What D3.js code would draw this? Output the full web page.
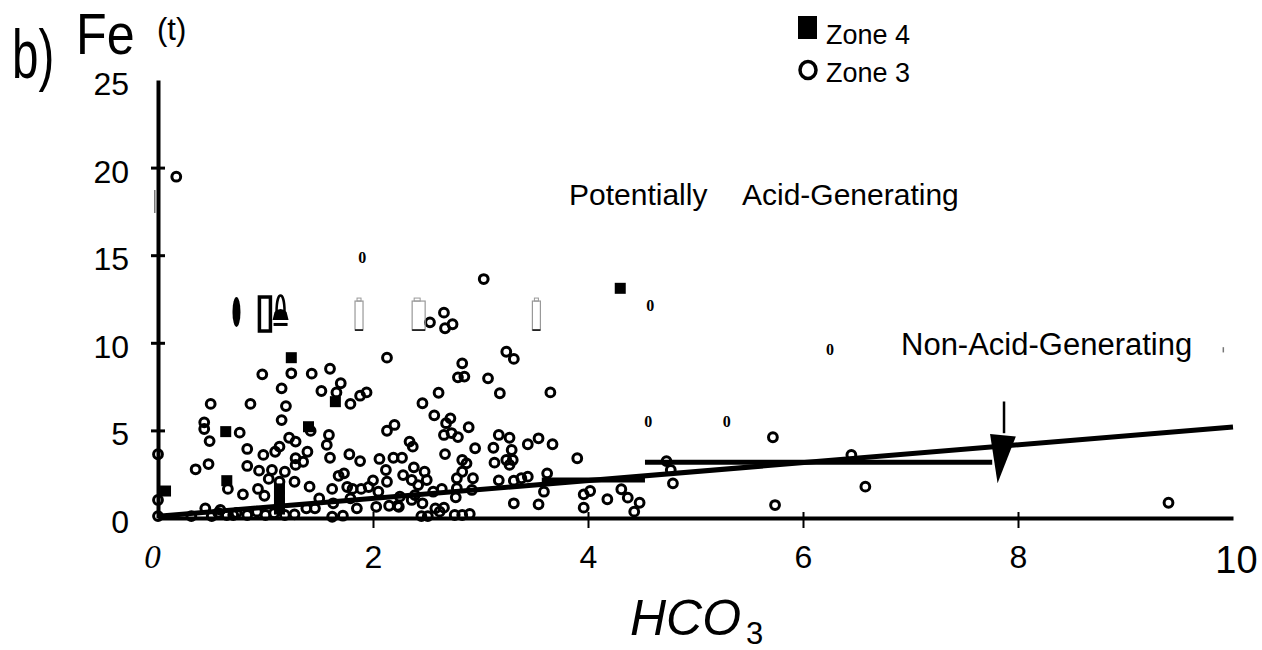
<!DOCTYPE html>
<html>
<head>
<meta charset="utf-8">
<style>
  body { margin: 0; background: #fff; }
  svg { display: block; font-family: "Liberation Sans", Arial, sans-serif; }
</style>
</head>
<body>
<div id="chart"></div>
<script src="https://cdn.jsdelivr.net/npm/d3@7"></script>
<script>
// HCO3 against total Fe
// [HCO3, Fe(t)]
const zone3 = [
  [2.13, 9.15], [0.97, 8.20], [1.24, 8.26], [1.43, 8.24], [1.60, 8.52], [1.15, 7.40],
  [1.52, 7.25], [1.70, 7.69], [1.66, 7.17], [1.88, 6.98], [1.94, 7.17], [0.49, 6.51],
  [0.86, 6.51], [1.19, 6.39], [1.79, 6.51], [1.15, 5.59], [0.43, 5.46], [0.43, 5.08],
  [0.76, 4.87], [0.48, 4.39], [1.42, 4.97], [1.59, 4.74], [1.57, 4.17], [2.13, 4.98],
  [2.20, 5.31], [1.22, 4.58], [1.28, 4.36], [0.83, 3.94], [0.98, 3.60], [1.09, 3.78],
  [1.13, 4.07], [1.39, 3.78], [1.60, 3.44], [1.28, 3.41], [1.28, 3.03], [1.35, 3.21],
  [1.78, 3.64], [1.88, 3.25], [2.06, 3.37], [2.19, 3.44], [2.12, 2.74], [0.35, 2.78],
  [0.47, 3.08], [0.83, 2.97], [0.94, 2.70], [1.06, 2.74], [1.03, 2.23], [1.18, 2.64],
  [1.27, 2.07], [1.13, 2.07], [1.68, 2.41], [1.73, 2.55], [2.00, 2.15], [2.13, 2.07],
  [0.65, 1.66], [0.79, 1.35], [0.93, 1.66], [0.99, 1.27], [1.41, 1.79], [1.62, 1.66],
  [1.76, 1.77], [1.81, 1.66], [1.89, 1.66], [1.96, 1.77], [2.05, 1.50], [0.00, 3.64],
  [0.00, 1.03], [0.00, 0.11], [0.31, 0.11], [0.44, 0.55], [0.50, 0.11], [0.58, 0.46],
  [0.70, 0.17], [0.83, 0.17], [0.92, 0.36], [1.00, 0.17], [1.08, 0.27], [1.27, 0.21],
  [1.38, 0.55], [1.50, 1.12], [1.62, 0.07], [1.72, 0.13], [1.63, 0.84], [1.85, 0.55],
  [2.03, 0.64], [2.15, 0.70], [2.23, 0.70], [1.79, 1.12], [1.46, 0.55], [0.56, 0.29],
  [0.64, 0.17], [0.73, 0.29], [1.18, 0.17],
  [3.24, 9.49], [3.31, 9.08], [2.83, 8.83], [2.79, 8.03], [2.85, 8.07], [3.07, 7.97],
  [3.18, 7.12], [3.65, 7.17], [2.61, 7.15], [2.46, 6.55], [2.57, 5.86], [2.72, 5.69],
  [2.68, 5.41], [2.89, 5.18], [2.66, 4.74], [2.73, 4.85], [2.79, 4.62], [2.34, 4.36],
  [2.37, 4.07], [2.95, 3.98], [3.17, 4.74], [3.27, 4.58], [3.12, 4.01], [3.29, 3.88],
  [3.44, 4.21], [3.54, 4.55], [3.67, 4.21], [2.67, 3.65], [2.27, 3.44], [2.83, 3.31],
  [2.87, 3.12], [3.13, 3.16], [3.24, 3.31], [3.30, 3.31], [3.27, 3.03], [3.90, 3.41],
  [2.38, 2.89], [2.28, 2.45], [2.48, 2.64], [2.50, 2.17], [2.36, 2.17], [2.42, 1.88],
  [2.83, 2.64], [2.78, 2.27], [2.93, 2.27], [3.17, 2.15], [3.31, 2.13], [3.38, 2.27],
  [3.44, 2.36], [3.62, 2.55], [2.25, 1.22], [2.39, 1.31], [2.36, 1.03], [2.46, 0.84],
  [2.56, 1.50], [2.64, 1.66], [2.78, 1.70], [2.77, 1.18], [2.92, 1.60], [3.59, 1.50],
  [3.31, 0.84], [3.54, 0.78], [2.24, 0.64], [2.58, 0.55], [2.66, 0.59], [2.62, 0.36],
  [2.45, 0.11], [2.51, 0.11], [2.76, 0.17], [2.83, 0.17], [2.90, 0.23], [3.96, 1.35],
  [4.02, 1.54], [3.96, 0.59], [4.18, 1.07], [4.31, 1.64], [4.37, 1.16], [4.48, 0.87],
  [4.43, 0.36],
  [0.17, 19.48], [3.03, 13.64], [2.53, 11.17], [2.66, 11.72], [2.67, 10.83], [2.74, 11.06],
  [4.73, 3.25], [4.77, 2.74], [4.79, 1.98], [5.72, 4.61], [5.74, 0.74], [6.45, 3.60],
  [6.58, 1.79], [9.40, 0.87]
];

const zone4 = [
  [1.24, 9.15], [1.65, 6.64], [0.63, 4.93], [1.40, 5.21], [0.64, 2.13], [0.07, 1.54],
  [4.30, 13.11], [1.13, 1.66], [1.13, 1.26], [1.13, 0.86], [1.13, 0.51]
];

// bold "0" glyphs left over in the scan
const strayZeros = [[1.90, 14.86], [4.58, 12.12], [6.25, 9.59], [4.56, 5.50], [5.29, 5.50]];

// odd scan glyphs in a row near Fe = 11.8
const scanMarks = [
  {x: 0.73, y: 11.76, kind: "oval"},
  {x: 0.99, y: 11.70, kind: "box"},
  {x: 1.14, y: 11.76, kind: "bell"},
  {x: 1.87, y: 11.64, kind: "cell"},
  {x: 2.42, y: 11.64, kind: "cellWide"},
  {x: 3.52, y: 11.64, kind: "cell"}
];

const trendLine = [[0, 0.1], [10, 5.2]];
const stepUpper = [[4.53, 3.18], [7.76, 3.18]];
const stepLower = [[3.57, 2.17], [4.53, 2.17]];
const arrowShaft = [[7.87, 6.65], [7.87, 4.84]];
const arrowHead = [[7.74, 4.80], [7.98, 4.65], [7.81, 1.98]];
const specks = [[[-0.03, 18.72], [-0.03, 17.41]], [[9.91, 9.75], [9.91, 9.45]]];

const xTicks = [0, 2, 4, 6, 8, 10];
const yTicks = [0, 5, 10, 15, 20, 25];

const width = 1262;
const height = 650;
const margin = ({top: 80, right: 29, bottom: 132, left: 158});

const svg = d3.select("#chart").append("svg").attr("width", width).attr("height", height);

const x = d3.scaleLinear()
  .domain([0, 10])
  .range([margin.left, width - margin.right]);

const y = d3.scaleLinear()
  .domain([0, 25])
  .range([height - margin.bottom, margin.top]);

const line = d3.line().x(d => x(d[0])).y(d => y(d[1]));

// ============================
// Axes
// ============================

const xAxis = g => g
  .attr("transform", `translate(0,${height - margin.bottom})`)
  .call(d3.axisBottom(x).tickValues(xTicks).tickSize(10).tickSizeOuter(0))
  .call(g => g.attr("font-family", null))
  .call(g => g.select(".domain").attr("stroke-width", 4))
  .call(g => g.selectAll(".tick line").attr("y1", -6).attr("stroke-width", 2)
    .attr("display", d => (d === 0 || d === 10) ? "none" : null))
  .call(g => g.selectAll(".tick text")
    .attr("fill", "#000").attr("y", 50).attr("dy", 0).attr("font-size", 32)
    .filter(d => d === 0)
    .attr("x", -6).attr("font-family", "'Liberation Serif', serif")
    .attr("font-style", "italic").attr("font-size", 33))
  .call(g => g.selectAll(".tick text").filter(d => d === 10)
    .attr("x", 3).attr("y", 55).attr("font-size", 38));

const yAxis = g => g
  .attr("transform", `translate(${margin.left},0)`)
  .call(d3.axisLeft(y).tickValues(yTicks).tickSize(7).tickSizeOuter(0))
  .call(g => g.attr("font-family", null))
  .call(g => g.select(".domain").attr("stroke-width", 4))
  .call(g => g.selectAll(".tick line").attr("x1", 7).attr("stroke-width", 3)
    .attr("display", d => (d === 0 || d === 25) ? "none" : null))
  .call(g => g.selectAll(".tick text")
    .attr("fill", "#000").attr("x", -29).attr("dy", "0.45em").attr("font-size", 32));

svg.append("g").call(xAxis);
svg.append("g").call(yAxis);

// ============================
// Boundary lines and arrow
// ============================

svg.append("path").datum(trendLine)
  .attr("d", line).attr("fill", "none").attr("stroke", "#000").attr("stroke-width", 5);

svg.append("g").attr("fill", "none").attr("stroke", "#000").attr("stroke-width", 5)
  .selectAll("path").data([stepUpper, stepLower]).join("path")
  .attr("d", line);

svg.append("path").datum(arrowShaft)
  .attr("d", line).attr("fill", "none").attr("stroke", "#000").attr("stroke-width", 2.5);

svg.append("path").datum(arrowHead)
  .attr("d", d => line(d) + "Z").attr("fill", "#000");

svg.append("g").attr("stroke", "#777").attr("stroke-width", 1.5)
  .selectAll("path").data(specks).join("path")
  .attr("d", line);

// ============================
// Points
// ============================

svg.append("g")
  .attr("fill", "none").attr("stroke", "#000").attr("stroke-width", 3)
  .selectAll("circle").data(zone3).join("circle")
  .attr("cx", d => x(d[0])).attr("cy", d => y(d[1])).attr("r", 4.4);

svg.append("g").attr("fill", "#000")
  .selectAll("rect").data(zone4).join("rect")
  .attr("x", d => x(d[0]) - 5.5).attr("y", d => y(d[1]) - 5.5)
  .attr("width", 11).attr("height", 11);

svg.append("g")
  .attr("font-family", "'Liberation Serif', serif").attr("font-weight", "bold")
  .attr("font-size", 16).attr("text-anchor", "middle")
  .selectAll("text").data(strayZeros).join("text")
  .attr("x", d => x(d[0])).attr("y", d => y(d[1]) + 5)
  .text("0");

// scan glyphs, drawn at their data position
const marks = svg.append("g").selectAll("g").data(scanMarks).join("g")
  .attr("transform", d => `translate(${x(d.x)},${y(d.y)})`);

marks.filter(d => d.kind === "oval").append("ellipse")
  .attr("rx", 4).attr("ry", 15).attr("fill", "#000");

marks.filter(d => d.kind === "box").append("rect")
  .attr("x", -5).attr("y", -16).attr("width", 11).attr("height", 34)
  .attr("fill", "none").attr("stroke", "#000").attr("stroke-width", 3.5);

const bell = marks.filter(d => d.kind === "bell");
bell.append("path").attr("d", "M-4,0 C-4,-22 4,-22 4,0")
  .attr("fill", "none").attr("stroke", "#000").attr("stroke-width", 2.5);
bell.append("path").attr("d", "M-8,8 L-6,0 Q0,-6 6,0 L8,8 Z").attr("fill", "#000");
bell.append("rect").attr("x", -7).attr("y", 11).attr("width", 14).attr("height", 3).attr("fill", "#000");

marks.filter(d => d.kind === "cell").call(g => {
  g.append("rect").attr("x", -4).attr("y", -13).attr("width", 8).attr("height", 29)
    .attr("fill", "none").attr("stroke", "#999").attr("stroke-width", 1.2);
  g.append("rect").attr("x", -2).attr("y", -16).attr("width", 4).attr("height", 3)
    .attr("fill", "none").attr("stroke", "#999").attr("stroke-width", 1);
  g.append("line").attr("x1", -4).attr("x2", 4).attr("y1", 16).attr("y2", 16)
    .attr("stroke", "#000").attr("stroke-width", 1.5);
});

marks.filter(d => d.kind === "cellWide").call(g => {
  g.append("rect").attr("x", -6).attr("y", -13).attr("width", 13).attr("height", 29)
    .attr("fill", "none").attr("stroke", "#999").attr("stroke-width", 1.2);
  g.append("rect").attr("x", -4).attr("y", -16).attr("width", 6).attr("height", 3)
    .attr("fill", "none").attr("stroke", "#999").attr("stroke-width", 1);
  g.append("line").attr("x1", -6).attr("x2", 7).attr("y1", 16).attr("y2", 16)
    .attr("stroke", "#000").attr("stroke-width", 1.5);
});

// ============================
// Titles, labels, legend
// ============================

svg.append("text").attr("transform", "translate(12,78) scale(0.7,1)")
  .attr("font-size", 68).text("b)");
svg.append("text").attr("transform", "translate(76,54) scale(0.88,1)")
  .attr("font-size", 57).text("Fe");
svg.append("text").attr("x", 157).attr("y", 40).attr("font-size", 31).text("(t)");

const xLabel = svg.append("text").attr("x", 630).attr("y", 635);
xLabel.append("tspan").attr("font-size", 50).attr("font-style", "italic").text("HCO");
xLabel.append("tspan").attr("font-size", 31).attr("dx", 5).attr("dy", 9).text("3");

const acid = svg.append("text").attr("y", 205).attr("font-size", 30);
acid.append("tspan").attr("x", 569).text("Potentially");
acid.append("tspan").attr("x", 742).text("Acid-Generating");

svg.append("text").attr("x", 901).attr("y", 355).attr("font-size", 31)
  .text("Non-Acid-Generating");

const legend = svg.append("g");
legend.append("rect").attr("x", 798).attr("y", 16).attr("width", 19).attr("height", 23).attr("fill", "#000");
legend.append("ellipse").attr("cx", 808).attr("cy", 70).attr("rx", 8).attr("ry", 8.5)
  .attr("fill", "none").attr("stroke", "#000").attr("stroke-width", 3.5);
legend.append("text").attr("x", 826).attr("y", 44).attr("font-size", 27).text("Zone 4");
legend.append("text").attr("x", 826).attr("y", 82).attr("font-size", 27).text("Zone 3");
</script>
</body>
</html>
